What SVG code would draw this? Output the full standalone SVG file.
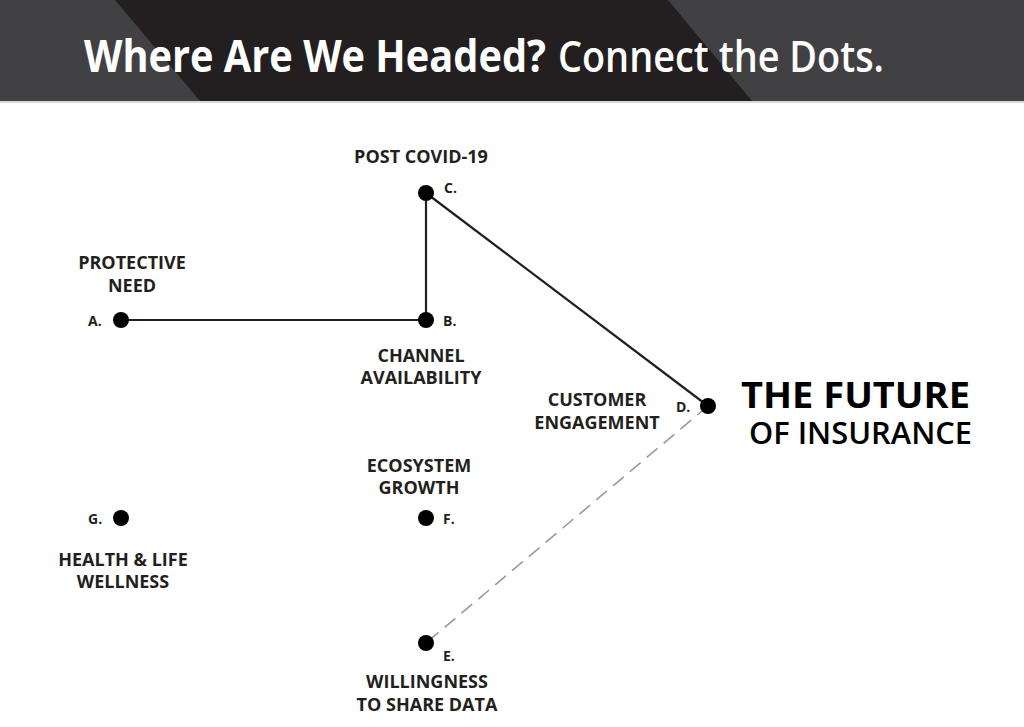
<svg xmlns="http://www.w3.org/2000/svg" width="1024" height="727" viewBox="0 0 1024 727">
<defs>
<style>
.lbl{font-family:"Open Sans","Liberation Sans",sans-serif;font-weight:700;font-size:18px;fill:#231f20;text-anchor:middle}
.let{font-family:"Open Sans","Liberation Sans",sans-serif;font-weight:700;font-size:14px;fill:#231f20}
.dot{fill:#000}
.solid{stroke:#231f20;stroke-width:2.2;fill:none}
.dash{stroke:#9a9a9a;stroke-width:1.6;fill:none;stroke-dasharray:14 8}
.ttl{font-family:"Open Sans","Liberation Sans",sans-serif;font-size:44px;fill:#ffffff}
</style>
</defs>
<rect x="0" y="0" width="1024" height="727" fill="#ffffff"/>
<g id="header">
<rect x="0" y="0" width="1024" height="101" fill="#414042"/>
<polygon points="115,0 668,0 752,101 200,101" fill="#231f20"/>
<rect x="0" y="101" width="1024" height="2" fill="#d8d8d8"/>
<text class="ttl" x="84" y="72" font-weight="700" textLength="462" lengthAdjust="spacingAndGlyphs">Where Are We Headed?</text>
<text class="ttl" x="558" y="72" font-weight="600" textLength="326" lengthAdjust="spacingAndGlyphs">Connect the Dots.</text>
</g>
<g id="connectors">
<line class="solid" x1="121" y1="320" x2="426" y2="320"/>
<line class="solid" x1="426" y1="320" x2="426" y2="193"/>
<line class="solid" x1="426" y1="193" x2="708" y2="406"/>
<line class="dash" x1="708" y1="406" x2="426" y2="643"/>
</g>
<g id="nodeA">
<circle class="dot" cx="121" cy="320" r="8"/>
<text class="let" x="88" y="326">A.</text>
<text class="lbl" x="132" y="269">PROTECTIVE</text>
<text class="lbl" x="132" y="292">NEED</text>
</g>
<g id="nodeB">
<circle class="dot" cx="426" cy="320" r="8"/>
<text class="let" x="443" y="326">B.</text>
<text class="lbl" x="421" y="362">CHANNEL</text>
<text class="lbl" x="421" y="384">AVAILABILITY</text>
</g>
<g id="nodeC">
<circle class="dot" cx="426" cy="193" r="8"/>
<text class="let" x="444" y="193">C.</text>
<text class="lbl" x="421" y="163">POST COVID-19</text>
</g>
<g id="nodeD">
<circle class="dot" cx="708" cy="406" r="8"/>
<text class="let" x="676" y="412">D.</text>
<text class="lbl" x="597" y="406">CUSTOMER</text>
<text class="lbl" x="597" y="429">ENGAGEMENT</text>
</g>
<g id="future">
<text x="741" y="408" font-family="Open Sans, Liberation Sans, sans-serif" font-weight="700" font-size="35" fill="#000" textLength="229" lengthAdjust="spacingAndGlyphs">THE FUTURE</text>
<text x="749" y="444" font-family="Open Sans, Liberation Sans, sans-serif" font-weight="600" font-size="31" fill="#000" textLength="223" lengthAdjust="spacingAndGlyphs">OF INSURANCE</text>
</g>
<g id="nodeE">
<circle class="dot" cx="426" cy="643" r="8"/>
<text class="let" x="443" y="661">E.</text>
<text class="lbl" x="427" y="688">WILLINGNESS</text>
<text class="lbl" x="427" y="711">TO SHARE DATA</text>
</g>
<g id="nodeF">
<circle class="dot" cx="426" cy="518" r="8"/>
<text class="let" x="443" y="524">F.</text>
<text class="lbl" x="419" y="472">ECOSYSTEM</text>
<text class="lbl" x="419" y="494">GROWTH</text>
</g>
<g id="nodeG">
<circle class="dot" cx="121" cy="518" r="8"/>
<text class="let" x="88" y="524">G.</text>
<text class="lbl" x="123" y="566">HEALTH &amp; LIFE</text>
<text class="lbl" x="123" y="588">WELLNESS</text>
</g>
</svg>
